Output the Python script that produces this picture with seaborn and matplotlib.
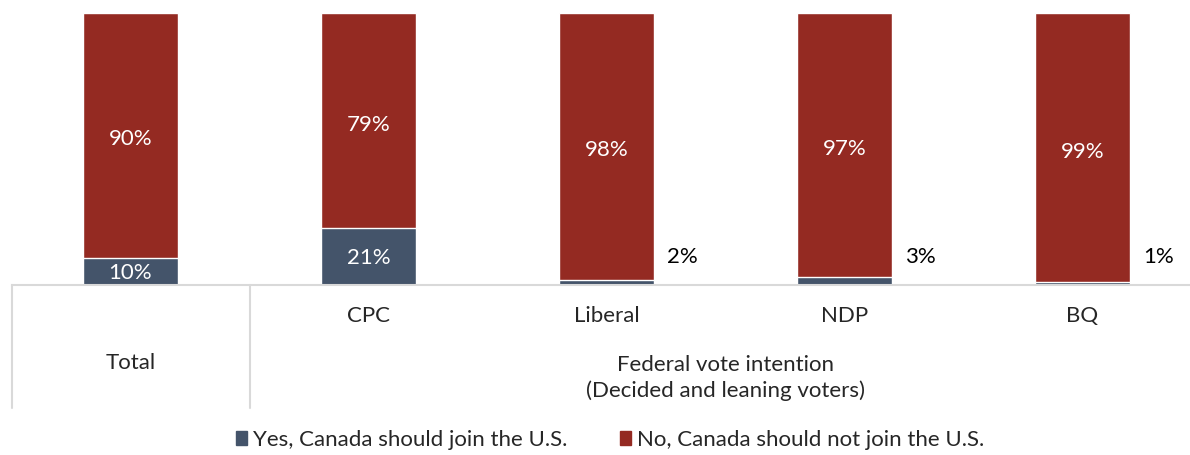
import matplotlib
matplotlib.use("Agg")
import matplotlib.pyplot as plt
from matplotlib.patches import Patch
import seaborn as sns
import pandas as pd

# values
categories = ["Total", "CPC", "Liberal", "NDP", "BQ"]
yes_vals = [10, 21, 2, 3, 1]
no_vals = [90, 79, 98, 97, 99]
group_label = "Federal vote intention\n(Decided and leaning voters)"
legend_labels = ["Yes, Canada should join the U.S.", "No, Canada should not join the U.S."]

blue = "#44546A"
red = "#942A22"
grid_col = "#D9D9D9"

sns.set_theme(style="white")
plt.rcParams["font.family"] = ["Lato", "DejaVu Sans"]

df = pd.DataFrame({"cat": categories, "yes": yes_vals, "no": no_vals})
df["total"] = df["yes"] + df["no"]

fig = plt.figure(figsize=(11.9, 4.55), dpi=100)
ax = fig.add_axes([11.5 / 1190, 1 - 285 / 455, 1 - 11.5 / 1190, 272 / 455])

sns.barplot(data=df, x="cat", y="total", color=red, width=0.4, saturation=1, ax=ax)
sns.barplot(data=df, x="cat", y="yes", color=blue, width=0.4, saturation=1, ax=ax)

ax.set_ylim(0, 100)
ax.set_xlim(-0.5, 4.5 - 11.5 / 238)
ax.set_xlabel("")
ax.set_ylabel("")
ax.set_xticks([])
ax.set_yticks([])
for s in ["top", "right", "left"]:
    ax.spines[s].set_visible(False)
ax.spines["bottom"].set_color(grid_col)
ax.spines["bottom"].set_linewidth(1.5)

fs = 16
for i, row in df.iterrows():
    ax.text(i, row["yes"] + row["no"] / 2 - 1.5, f"{row['no']}%", ha="center", va="center",
            color="white", fontsize=fs)
    if row["yes"] >= 8:
        ax.text(i, row["yes"] / 2 - 0.5, f"{row['yes']}%", ha="center", va="center",
                color="white", fontsize=fs)
    else:
        ax.text(i + 0.255, 10.3, f"{row['yes']}%", ha="left", va="center",
                color="black", fontsize=fs)

# table-like category area under the bars
tr = ax.get_xaxis_transform()
for xv in [-0.5, 0.5]:
    ax.plot([xv, xv], [0, -123 / 272], transform=tr, color=grid_col, lw=1.5, clip_on=False)
ax.text(0, -78 / 272, categories[0], transform=tr, ha="center", va="center", fontsize=fs)
for i, c in enumerate(categories[1:], start=1):
    ax.text(i, -31 / 272, c, transform=tr, ha="center", va="center", fontsize=fs)
ax.text(2.5, -93 / 272, group_label, transform=tr, ha="center", va="center",
        fontsize=fs, linespacing=1.3)

handles = [Patch(color=blue), Patch(color=red)]
fig.legend(handles, legend_labels, loc="center", bbox_to_anchor=(610 / 1190, 1 - 440 / 455),
           ncol=2, frameon=False, fontsize=fs, handlelength=0.5, handleheight=0.6,
           handletextpad=0.25, columnspacing=2.4)

fig.savefig("out.png", dpi=100)
